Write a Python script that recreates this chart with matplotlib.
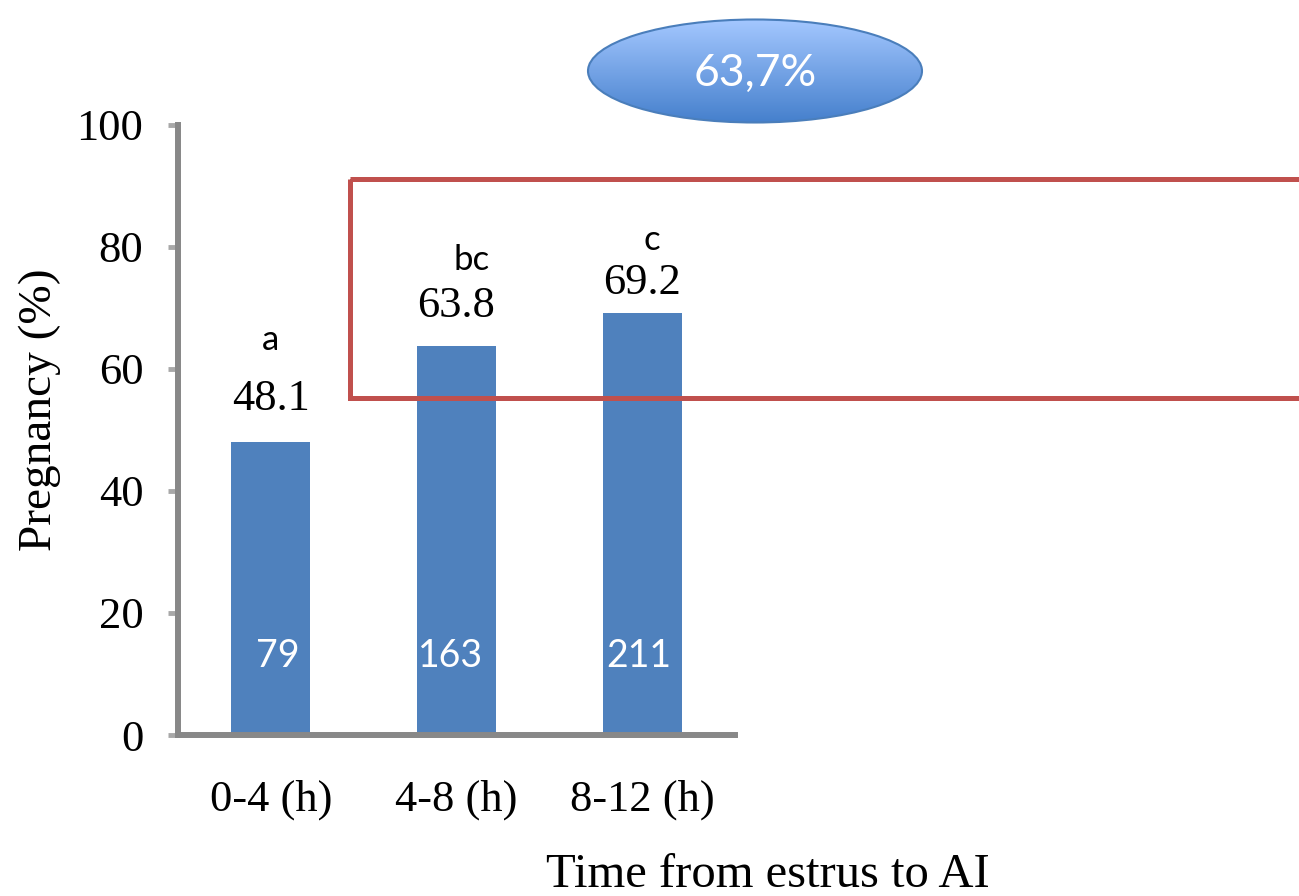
import numpy as np
import matplotlib
matplotlib.use('Agg')
import matplotlib.pyplot as plt
from matplotlib.patches import Ellipse, Rectangle

# data
grupos = ['0-4 (h)', '4-8 (h)', '8-12 (h)']
prenez = [48.1, 63.8, 69.2]
letras = ['a', 'bc', 'c']
n_vacas = [79, 163, 211]
total = '63,7%'

azul = '#4F81BD'
gris = '#888888'
rojo = '#C0504D'
serif = 'Liberation Serif'
sans = 'Lato'

fig = plt.figure(figsize=(12.99, 8.96), dpi=100)
W, H = 1299, 896
ax = fig.add_axes([178/W, (H-735)/H, (735-178)/W, (735-125)/H])

x = np.arange(len(grupos))
ax.bar(x, prenez, width=0.425, color=azul, zorder=2)
ax.set_xlim(-0.5, 2.5)
ax.set_ylim(0, 100)
ax.set_yticks([0, 20, 40, 60, 80, 100])
ax.set_xticks(x)
ax.set_xticklabels(grupos, fontfamily=serif, fontsize=32)
for t in ax.get_yticklabels():
    t.set_fontfamily(serif)
    t.set_fontsize(32)
ax.tick_params(axis='y', length=7, width=3.5, color='#A8A8A8', pad=18, direction='out')
ax.tick_params(axis='x', length=0, pad=32)
for s in ['top', 'right']:
    ax.spines[s].set_visible(False)
for s in ['left', 'bottom']:
    ax.spines[s].set_color(gris)
    ax.spines[s].set_linewidth(4.3)

# etiquetas sobre las barras
dx_letra = [0.0, 0.08, 0.05]
dy_letra = [16.7, 14.1, 11.9]
dy_valor = [7.0, 6.5, 4.9]
dx_n = [0.04, -0.03, -0.02]
for i, v in enumerate(prenez):
    ax.text(x[i], v + dy_valor[i], '%.1f' % v, ha='center', va='center',
            fontfamily=serif, fontsize=32, color='black')
    ax.text(x[i] + dx_letra[i], v + dy_letra[i], letras[i], ha='center', va='center',
            fontfamily=sans, fontsize=25, color='black')
    ax.text(x[i] + dx_n[i], 13, str(n_vacas[i]), ha='center', va='center',
            fontfamily=sans, fontsize=27, color='white', zorder=3)

fig.text(40/W, 1 - 410/H, 'Pregnancy (%)', rotation=90, ha='center', va='center',
         fontfamily=serif, fontsize=34)
fig.text(768/W, 1 - 887/H, 'Time from estrus to AI', ha='center', va='baseline',
         fontfamily=serif, fontsize=35)

# capa superior en pixeles
ov = fig.add_axes([0, 0, 1, 1], facecolor='none')
ov.set_xlim(0, W)
ov.set_ylim(H, 0)
ov.axis('off')

ov.add_patch(Rectangle((350, 179), 1000, 219, fill=False, edgecolor=rojo, linewidth=3.6))

elipse = Ellipse((755, 71), 334, 103, facecolor='none', edgecolor='#4A7EBB', linewidth=1.5, zorder=4)
ov.add_patch(elipse)
grad = np.linspace(0, 1, 256).reshape(-1, 1)
c_top = np.array([0.64, 0.78, 1.0])
c_bot = np.array([0.27, 0.50, 0.80])
img = c_top[None, None, :] * (1 - grad[:, :, None]) + c_bot[None, None, :] * grad[:, :, None]
im = ov.imshow(img, extent=(588, 922, 123, 20), aspect='auto', zorder=3)
im.set_clip_path(elipse)
ov.text(755, 73, total, ha='center', va='center', fontfamily=sans, fontsize=32,
        color='white', zorder=5)
ov.set_xlim(0, W)
ov.set_ylim(H, 0)

fig.savefig('out.png', dpi=100)
